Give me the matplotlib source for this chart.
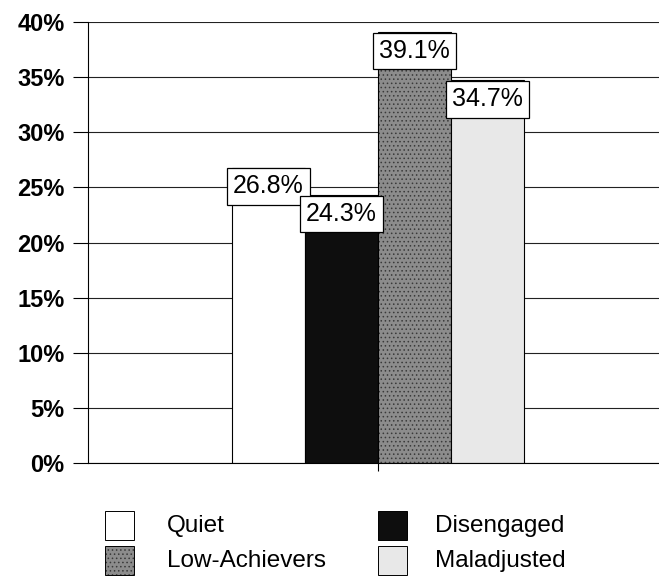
import matplotlib
matplotlib.use("Agg")
import matplotlib.pyplot as plt
from matplotlib.patches import Rectangle

categories = ["Quiet", "Disengaged", "Low-Achievers", "Maladjusted"]
values = [26.8, 24.3, 39.1, 34.7]
yticks = [0, 5, 10, 15, 20, 25, 30, 35, 40]
ytick_labels = ["0%", "5%", "10%", "15%", "20%", "25%", "30%", "35%", "40%"]

colors = ["white", "#0e0e0e", "#8c8c8c", "#e8e8e8"]
hatches = [None, None, "....", None]
hatch_colors = ["black", "black", "#3a3a3a", "#bdbdbd"]

plt.rcParams["font.family"] = ["Liberation Sans", "DejaVu Sans"]
plt.rcParams["hatch.linewidth"] = 0.6

W, H = 659, 578
fig = plt.figure(figsize=(W / 100, H / 100), dpi=100)
ax = fig.add_axes([88 / W, (H - 463) / H, 580 / W, 441 / H])

positions = [-1.5, -0.5, 0.5, 1.5]
for yv in yticks:
    ax.axhline(yv, color="#222222", lw=0.8, zorder=0)

bars = []
for p, v, c, h, hc in zip(positions, values, colors, hatches, hatch_colors):
    b = ax.bar(p, v, width=1.0, color=c, edgecolor="black", linewidth=0.8,
               hatch=h, zorder=2)
    for r in b:
        r.set_edgecolor("black")
        if h:
            r._hatch_color = matplotlib.colors.to_rgba(hc)
    bars.append(b)

for p, v in zip(positions, values):
    ax.annotate(f"{v:.1f}%", xy=(p, v), xytext=(0, -5), textcoords="offset points",
                ha="center", va="top", fontsize=18, zorder=5,
                bbox=dict(boxstyle="square,pad=0.25", fc="white", ec="black", lw=0.9))

ax.set_xlim(-3.97, 3.97)
ax.set_ylim(0, 40)
ax.set_yticks(yticks)
ax.set_yticklabels(ytick_labels, fontsize=17, fontweight="bold")
ax.set_xticks([0])
ax.set_xticklabels([""])
ax.tick_params(axis="y", length=11, width=0.8, pad=6)
ax.tick_params(axis="x", length=6, width=0.8)
for s in ["top", "right"]:
    ax.spines[s].set_visible(False)
ax.spines["left"].set_linewidth(0.8)
ax.spines["bottom"].set_linewidth(0.8)

# Manual legend
legend_order = [0, 1, 2, 3]
legend_pos = [(105, 511, 167), (378, 511, 435), (105, 546, 167), (378, 546, 435)]
for idx, (x0, y0, tx) in zip(legend_order, legend_pos):
    rect = Rectangle((x0 / W, 1 - (y0 + 29) / H), 29 / W, 29 / H,
                     transform=fig.transFigure, facecolor=colors[idx],
                     edgecolor="black", linewidth=0.7, hatch=hatches[idx])
    if hatches[idx]:
        rect._hatch_color = matplotlib.colors.to_rgba(hatch_colors[idx])
    fig.add_artist(rect)
    fig.text(tx / W, 1 - (y0 + 15) / H, categories[idx], fontsize=17.5,
             va="center", ha="left")

fig.savefig("out.png", dpi=100)
